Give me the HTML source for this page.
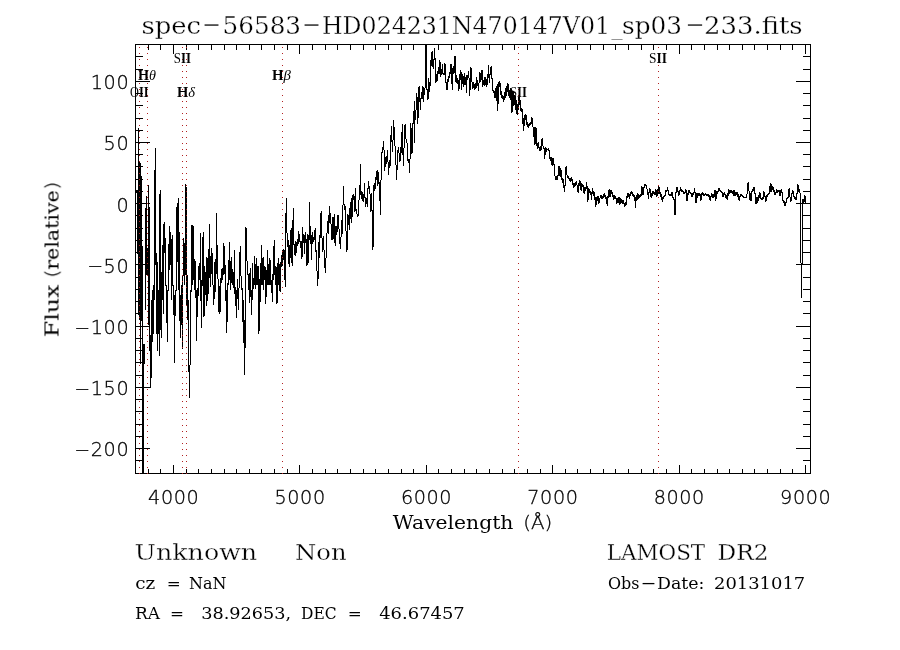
<!DOCTYPE html>
<html><head><meta charset="utf-8"><title>spec-56583-HD024231N470147V01_sp03-233.fits</title>
<style>html,body{margin:0;padding:0;background:#fff}svg{display:block}</style></head>
<body><svg width="900" height="650" viewBox="0 0 900 650">
<rect width="900" height="650" fill="#fff"/>
<path d="M135.5 44 V474 M810.5 44 V474 M135 44.5 H811 M135 473.5 H811 M148.5 44 V50 M148.5 474 V469 M160.5 44 V50 M160.5 474 V469 M173.5 44 V54 M173.5 474 V465 M186.5 44 V50 M186.5 474 V469 M198.5 44 V50 M198.5 474 V469 M211.5 44 V50 M211.5 474 V469 M224.5 44 V50 M224.5 474 V469 M236.5 44 V50 M236.5 474 V469 M249.5 44 V50 M249.5 474 V469 M261.5 44 V50 M261.5 474 V469 M274.5 44 V50 M274.5 474 V469 M287.5 44 V50 M287.5 474 V469 M299.5 44 V54 M299.5 474 V465 M312.5 44 V50 M312.5 474 V469 M325.5 44 V50 M325.5 474 V469 M337.5 44 V50 M337.5 474 V469 M350.5 44 V50 M350.5 474 V469 M363.5 44 V50 M363.5 474 V469 M375.5 44 V50 M375.5 474 V469 M388.5 44 V50 M388.5 474 V469 M401.5 44 V50 M401.5 474 V469 M413.5 44 V50 M413.5 474 V469 M426.5 44 V54 M426.5 474 V465 M438.5 44 V50 M438.5 474 V469 M451.5 44 V50 M451.5 474 V469 M464.5 44 V50 M464.5 474 V469 M476.5 44 V50 M476.5 474 V469 M489.5 44 V50 M489.5 474 V469 M502.5 44 V50 M502.5 474 V469 M514.5 44 V50 M514.5 474 V469 M527.5 44 V50 M527.5 474 V469 M540.5 44 V50 M540.5 474 V469 M552.5 44 V54 M552.5 474 V465 M565.5 44 V50 M565.5 474 V469 M577.5 44 V50 M577.5 474 V469 M590.5 44 V50 M590.5 474 V469 M603.5 44 V50 M603.5 474 V469 M615.5 44 V50 M615.5 474 V469 M628.5 44 V50 M628.5 474 V469 M641.5 44 V50 M641.5 474 V469 M653.5 44 V50 M653.5 474 V469 M666.5 44 V50 M666.5 474 V469 M679.5 44 V54 M679.5 474 V465 M691.5 44 V50 M691.5 474 V469 M704.5 44 V50 M704.5 474 V469 M717.5 44 V50 M717.5 474 V469 M729.5 44 V50 M729.5 474 V469 M742.5 44 V50 M742.5 474 V469 M754.5 44 V50 M754.5 474 V469 M767.5 44 V50 M767.5 474 V469 M780.5 44 V50 M780.5 474 V469 M792.5 44 V50 M792.5 474 V469 M805.5 44 V54 M805.5 474 V465 M135 460.5 H143 M811 460.5 H803 M135 448.5 H150 M811 448.5 H796 M135 436.5 H143 M811 436.5 H803 M135 424.5 H143 M811 424.5 H803 M135 411.5 H143 M811 411.5 H803 M135 399.5 H143 M811 399.5 H803 M135 387.5 H150 M811 387.5 H796 M135 375.5 H143 M811 375.5 H803 M135 362.5 H143 M811 362.5 H803 M135 350.5 H143 M811 350.5 H803 M135 338.5 H143 M811 338.5 H803 M135 326.5 H150 M811 326.5 H796 M135 313.5 H143 M811 313.5 H803 M135 301.5 H143 M811 301.5 H803 M135 289.5 H143 M811 289.5 H803 M135 277.5 H143 M811 277.5 H803 M135 264.5 H150 M811 264.5 H796 M135 252.5 H143 M811 252.5 H803 M135 240.5 H143 M811 240.5 H803 M135 228.5 H143 M811 228.5 H803 M135 215.5 H143 M811 215.5 H803 M135 203.5 H150 M811 203.5 H796 M135 191.5 H143 M811 191.5 H803 M135 179.5 H143 M811 179.5 H803 M135 166.5 H143 M811 166.5 H803 M135 154.5 H143 M811 154.5 H803 M135 142.5 H150 M811 142.5 H796 M135 130.5 H143 M811 130.5 H803 M135 118.5 H143 M811 118.5 H803 M135 105.5 H143 M811 105.5 H803 M135 93.5 H143 M811 93.5 H803 M135 81.5 H150 M811 81.5 H796 M135 69.5 H143 M811 69.5 H803 M135 56.5 H143 M811 56.5 H803" stroke="#000" stroke-width="1" fill="none" shape-rendering="crispEdges"/>
<path d="M136.5 190V193M137.5 190V254M138.5 128V315M139.5 162V320M140.5 163V364M141.5 176V321M142.5 246V474M143.5 344V474M144.5 344V364M145.5 208V310M146.5 196V275M147.5 248V275M148.5 185V325M149.5 207V351M150.5 335V388M151.5 300V378M152.5 290V342M153.5 285V334M154.5 170V300M155.5 148V265M156.5 253V334M157.5 262V351M158.5 290V334M159.5 194V356M160.5 190V330M161.5 272V338M162.5 245V300M163.5 224V314M164.5 222V253M165.5 238V286M166.5 285V323M167.5 290V342M168.5 244V291M169.5 226V270M170.5 232V265M171.5 239V300M172.5 235V286M173.5 285V315M174.5 295V363M175.5 290V316M176.5 207V291M177.5 203V262M178.5 198V290M179.5 232V321M180.5 295V338M181.5 285V325M182.5 275V349M183.5 238V276M184.5 243V285M185.5 184V275M186.5 187V305M187.5 275V320M188.5 300V372M189.5 365V398M190.5 290V365M191.5 225V292M192.5 225V285M193.5 226V280M194.5 259V290M195.5 261V298M196.5 290V341M197.5 288V317M198.5 266V296M199.5 263V280M200.5 233V301M201.5 280V328M202.5 237V286M203.5 232V317M204.5 266V316M205.5 272V295M206.5 257V306M207.5 258V301M208.5 249V294M209.5 224V278M210.5 256V287M211.5 248V274M212.5 253V285M213.5 285V305M214.5 262V299M215.5 259V292M216.5 213V274M217.5 245V279M218.5 279V312M219.5 286V314M220.5 278V312M221.5 269V283M222.5 268V280M223.5 243V275M224.5 246V274M225.5 265V301M226.5 290V333M227.5 283V322M228.5 260V285M229.5 242V280M230.5 261V290M231.5 257V283M232.5 269V285M233.5 272V288M234.5 250V294M235.5 287V306M236.5 290V318M237.5 279V299M238.5 288V310M239.5 252V288M240.5 246V276M241.5 276V290M242.5 288V322M243.5 300V343M244.5 320V375M245.5 227V348M246.5 228V261M247.5 261V275M248.5 274V290M249.5 273V303M250.5 268V297M251.5 290V315M252.5 263V300M253.5 278V289M254.5 256V285M255.5 264V289M256.5 258V285M257.5 266V285M258.5 266V334M259.5 279V331M260.5 263V302M261.5 245V285M262.5 258V285M263.5 257V290M264.5 266V280M265.5 267V304M266.5 270V297M267.5 250V285M268.5 264V285M269.5 258V285M270.5 260V285M271.5 280V293M272.5 274V302M273.5 246V280M274.5 240V275M275.5 266V285M276.5 267V304M277.5 263V303M278.5 258V285M279.5 264V291M280.5 262V292M281.5 255V267M282.5 250V266M283.5 249V260M284.5 250V280M285.5 213V287M286.5 198V233M287.5 233V247M288.5 240V264M289.5 245V267M290.5 230V258M291.5 228V263M292.5 220V266M293.5 208V245M294.5 244V255M295.5 241V256M296.5 242V253M297.5 239V246M298.5 231V244M299.5 234V242M300.5 241V248M301.5 241V259M302.5 227V257M303.5 234V243M304.5 235V254M305.5 232V243M306.5 239V266M307.5 234V265M308.5 235V263M309.5 202V240M310.5 226V244M311.5 235V260M312.5 232V244M313.5 237V242M314.5 230V240M315.5 228V252M316.5 250V271M317.5 271V286M318.5 242V279M319.5 235V258M320.5 213V238M321.5 211V238M322.5 238V252M323.5 236V250M324.5 250V268M325.5 258V273M326.5 233V258M327.5 221V233M328.5 215V234M329.5 206V223M330.5 213V224M331.5 224V240M332.5 217V240M333.5 217V239M334.5 214V243M335.5 226V246M336.5 226V235M337.5 215V232M338.5 215V229M339.5 229V244M340.5 237V249M341.5 220V237M342.5 205V234M343.5 186V205M344.5 204V210M345.5 206V231M346.5 231V252M347.5 214V250M348.5 215V225M349.5 208V230M350.5 202V219M351.5 198V223M352.5 195V217M353.5 194V200M354.5 196V212M355.5 188V211M356.5 209V214M357.5 214V217M358.5 200V216M359.5 185V200M360.5 164V195M361.5 191V199M362.5 192V201M363.5 194V202M364.5 183V198M365.5 197V207M366.5 198V204M367.5 188V207M368.5 181V189M369.5 186V194M370.5 194V212M371.5 193V211M372.5 210V250M373.5 185V247M374.5 183V191M375.5 177V189M376.5 171V180M377.5 170V186M378.5 172V184M379.5 182V201M380.5 180V215M381.5 152V180M382.5 147V153M383.5 141V150M384.5 150V171M385.5 157V167M386.5 156V164M387.5 150V162M388.5 162V175M389.5 160V168M390.5 135V166M391.5 126V142M392.5 140V152M393.5 120V140M394.5 127V146M395.5 146V165M396.5 165V180M397.5 150V170M398.5 147V153M399.5 153V162M400.5 147V161M401.5 132V153M402.5 124V155M403.5 148V166M404.5 125V148M405.5 124V139M406.5 139V143M407.5 143V161M408.5 159V163M409.5 159V173M410.5 123V159M411.5 128V154M412.5 123V153M413.5 111V124M414.5 101V143M415.5 110V120M416.5 93V110M417.5 97V124M418.5 87V118M419.5 86V102M420.5 98V110M421.5 92V99M422.5 86V99M423.5 87V102M424.5 88V95M425.5 44V88M426.5 44V90M427.5 89V100M428.5 78V99M429.5 82V92M430.5 60V86M431.5 52V66M432.5 51V67M433.5 59V69M434.5 48V60M435.5 58V83M436.5 74V82M437.5 71V81M438.5 67V74M439.5 60V74M440.5 62V77M441.5 69V75M442.5 64V74M443.5 73V75M444.5 63V75M445.5 64V83M446.5 82V90M447.5 79V90M448.5 76V82M449.5 72V78M450.5 64V74M451.5 64V84M452.5 68V90M453.5 66V74M454.5 56V73M455.5 56V82M456.5 75V83M457.5 78V84M458.5 80V91M459.5 74V89M460.5 70V80M461.5 72V90M462.5 74V84M463.5 76V87M464.5 73V85M465.5 77V85M466.5 75V93M467.5 75V80M468.5 71V78M469.5 78V96M470.5 67V90M471.5 68V82M472.5 82V89M473.5 82V88M474.5 84V90M475.5 83V89M476.5 77V88M477.5 80V86M478.5 83V91M479.5 72V83M480.5 73V82M481.5 70V80M482.5 70V87M483.5 80V85M484.5 77V86M485.5 77V85M486.5 79V87M487.5 74V85M488.5 65V78M489.5 74V83M490.5 67V75M491.5 66V79M492.5 78V91M493.5 90V93M494.5 91V98M495.5 88V98M496.5 86V101M497.5 84V111M498.5 82V104M499.5 81V87M500.5 83V95M501.5 91V98M502.5 95V99M503.5 96V102M504.5 92V100M505.5 88V98M506.5 86V96M507.5 83V92M508.5 84V96M509.5 90V98M510.5 88V100M511.5 89V113M512.5 91V112M513.5 92V106M514.5 95V105M515.5 96V110M516.5 100V114M517.5 104V115M518.5 97V110M519.5 97V105M520.5 100V111M521.5 108V112M522.5 109V124M523.5 118V131M524.5 115V126M525.5 114V120M526.5 115V125M527.5 122V127M528.5 124V128M529.5 123V126M530.5 122V125M531.5 117V124M532.5 118V127M533.5 127V137M534.5 127V145M535.5 127V144M536.5 128V146M537.5 143V149M538.5 142V148M539.5 147V151M540.5 146V151M541.5 139V150M542.5 138V146M543.5 146V149M544.5 148V159M545.5 147V155M546.5 148V152M547.5 149V150M548.5 148V151M549.5 150V159M550.5 157V161M551.5 157V165M552.5 158V166M553.5 158V165M554.5 164V176M555.5 176V180M556.5 176V180M557.5 175V180M558.5 166V176M559.5 166V176M560.5 168V177M561.5 170V180M562.5 178V183M563.5 179V188M564.5 185V192M565.5 167V186M566.5 166V175M567.5 175V178M568.5 176V179M569.5 178V181M570.5 178V182M571.5 177V181M572.5 179V185M573.5 183V188M574.5 183V187M575.5 182V186M576.5 181V185M577.5 185V192M578.5 183V193M579.5 180V186M580.5 181V190M581.5 183V191M582.5 184V187M583.5 185V193M584.5 187V194M585.5 187V191M586.5 182V189M587.5 186V202M588.5 188V200M589.5 189V193M590.5 191V195M591.5 192V200M592.5 188V194M593.5 191V196M594.5 192V200M595.5 197V207M596.5 197V205M597.5 196V201M598.5 196V204M599.5 198V203M600.5 195V198M601.5 195V199M602.5 196V199M603.5 194V198M604.5 193V197M605.5 195V199M606.5 197V204M607.5 196V206M608.5 190V198M609.5 189V197M610.5 190V197M611.5 190V194M612.5 192V197M613.5 195V200M614.5 195V199M615.5 196V199M616.5 198V204M617.5 198V203M618.5 197V203M619.5 197V205M620.5 198V204M621.5 199V203M622.5 200V204M623.5 200V204M624.5 203V207M625.5 202V206M626.5 196V205M627.5 193V198M628.5 193V197M629.5 194V199M630.5 192V196M631.5 191V194M632.5 192V196M633.5 194V197M634.5 195V201M635.5 197V208M636.5 195V201M637.5 193V200M638.5 194V199M639.5 195V198M640.5 194V197M641.5 186V196M642.5 187V195M643.5 187V195M644.5 184V188M645.5 184V186M646.5 185V189M647.5 189V195M648.5 192V199M649.5 188V193M650.5 189V197M651.5 193V198M652.5 191V196M653.5 191V194M654.5 192V195M655.5 189V195M656.5 190V197M657.5 189V196M658.5 186V194M659.5 187V194M660.5 192V197M661.5 194V200M662.5 197V202M663.5 196V199M664.5 195V197M665.5 190V196M666.5 190V192M667.5 187V191M668.5 190V195M669.5 194V196M670.5 194V196M671.5 192V196M672.5 192V198M673.5 197V200M674.5 199V215M675.5 192V215M676.5 187V193M677.5 187V192M678.5 191V196M679.5 190V195M680.5 187V191M681.5 189V192M682.5 190V192M683.5 191V194M684.5 192V194M685.5 189V193M686.5 190V201M687.5 193V201M688.5 190V195M689.5 190V193M690.5 192V194M691.5 193V197M692.5 193V197M693.5 192V195M694.5 188V193M695.5 192V203M696.5 193V203M697.5 193V198M698.5 193V196M699.5 193V196M700.5 194V201M701.5 193V200M702.5 192V195M703.5 193V196M704.5 194V196M705.5 193V195M706.5 194V196M707.5 194V196M708.5 194V197M709.5 195V200M710.5 196V201M711.5 193V197M712.5 194V198M713.5 194V198M714.5 190V197M715.5 190V201M716.5 191V199M717.5 191V194M718.5 188V192M719.5 188V191M720.5 190V192M721.5 191V193M722.5 192V197M723.5 193V197M724.5 192V195M725.5 194V198M726.5 195V199M727.5 193V200M728.5 189V196M729.5 190V194M730.5 190V193M731.5 190V193M732.5 191V194M733.5 190V196M734.5 190V196M735.5 192V196M736.5 192V195M737.5 192V197M738.5 194V200M739.5 196V201M740.5 194V197M741.5 194V196M742.5 195V197M743.5 196V198M744.5 197V198M745.5 197V198M746.5 194V198M747.5 183V194M748.5 182V191M749.5 191V200M750.5 193V201M751.5 191V201M752.5 189V192M753.5 187V191M754.5 187V194M755.5 193V204M756.5 197V204M757.5 197V203M758.5 195V201M759.5 192V198M760.5 193V199M761.5 198V200M762.5 197V200M763.5 191V199M764.5 192V197M765.5 196V202M766.5 195V201M767.5 194V197M768.5 193V195M769.5 186V194M770.5 183V192M771.5 184V192M772.5 186V190M773.5 187V192M774.5 190V195M775.5 192V195M776.5 189V193M777.5 190V193M778.5 190V192M779.5 190V196M780.5 190V196M781.5 189V193M782.5 192V201M783.5 200V203M784.5 201V206M785.5 202V206M786.5 198V203M787.5 197V199M788.5 189V198M789.5 188V197M790.5 197V202M791.5 193V201M792.5 190V194M793.5 191V197M794.5 196V199M795.5 197V200M796.5 193V200M797.5 184V194M798.5 185V192M799.5 189V193M800.5 193V263M801.5 263V298M802.5 199V264M803.5 199V203M804.5 195V202M805.5 196V203" stroke="#000" stroke-width="1" fill="none" shape-rendering="crispEdges"/>
<path d="M139 47.5h1M139 53.5h1M139 59.5h1M139 65.5h1M139 71.5h1M139 77.5h1M139 83.5h1M139 89.5h1M139 95.5h1M139 101.5h1M139 107.5h1M139 113.5h1M139 119.5h1M139 125.5h1M139 131.5h1M139 137.5h1M139 143.5h1M139 149.5h1M139 155.5h1M139 161.5h1M139 167.5h1M139 173.5h1M139 179.5h1M139 185.5h1M139 191.5h1M139 197.5h1M139 203.5h1M139 209.5h1M139 215.5h1M139 221.5h1M139 227.5h1M139 233.5h1M139 239.5h1M139 245.5h1M139 251.5h1M139 257.5h1M139 263.5h1M139 269.5h1M139 275.5h1M139 281.5h1M139 287.5h1M139 293.5h1M139 299.5h1M139 305.5h1M139 311.5h1M139 317.5h1M139 323.5h1M139 329.5h1M139 335.5h1M139 341.5h1M139 347.5h1M139 353.5h1M139 359.5h1M139 365.5h1M139 371.5h1M139 377.5h1M139 383.5h1M139 389.5h1M139 395.5h1M139 401.5h1M139 407.5h1M139 413.5h1M139 419.5h1M139 425.5h1M139 431.5h1M139 437.5h1M139 443.5h1M139 449.5h1M139 455.5h1M139 461.5h1M139 467.5h1M139 473.5h1M147 47.5h1M147 53.5h1M147 59.5h1M147 65.5h1M147 71.5h1M147 77.5h1M147 83.5h1M147 89.5h1M147 95.5h1M147 101.5h1M147 107.5h1M147 113.5h1M147 119.5h1M147 125.5h1M147 131.5h1M147 137.5h1M147 143.5h1M147 149.5h1M147 155.5h1M147 161.5h1M147 167.5h1M147 173.5h1M147 179.5h1M147 185.5h1M147 191.5h1M147 197.5h1M147 203.5h1M147 209.5h1M147 215.5h1M147 221.5h1M147 227.5h1M147 233.5h1M147 239.5h1M147 245.5h1M147 251.5h1M147 257.5h1M147 263.5h1M147 269.5h1M147 275.5h1M147 281.5h1M147 287.5h1M147 293.5h1M147 299.5h1M147 305.5h1M147 311.5h1M147 317.5h1M147 323.5h1M147 329.5h1M147 335.5h1M147 341.5h1M147 347.5h1M147 353.5h1M147 359.5h1M147 365.5h1M147 371.5h1M147 377.5h1M147 383.5h1M147 389.5h1M147 395.5h1M147 401.5h1M147 407.5h1M147 413.5h1M147 419.5h1M147 425.5h1M147 431.5h1M147 437.5h1M147 443.5h1M147 449.5h1M147 455.5h1M147 461.5h1M147 467.5h1M147 473.5h1M182 47.5h1M182 53.5h1M182 59.5h1M182 65.5h1M182 71.5h1M182 77.5h1M182 83.5h1M182 89.5h1M182 95.5h1M182 101.5h1M182 107.5h1M182 113.5h1M182 119.5h1M182 125.5h1M182 131.5h1M182 137.5h1M182 143.5h1M182 149.5h1M182 155.5h1M182 161.5h1M182 167.5h1M182 173.5h1M182 179.5h1M182 185.5h1M182 191.5h1M182 197.5h1M182 203.5h1M182 209.5h1M182 215.5h1M182 221.5h1M182 227.5h1M182 233.5h1M182 239.5h1M182 245.5h1M182 251.5h1M182 257.5h1M182 263.5h1M182 269.5h1M182 275.5h1M182 281.5h1M182 287.5h1M182 293.5h1M182 299.5h1M182 305.5h1M182 311.5h1M182 317.5h1M182 323.5h1M182 329.5h1M182 335.5h1M182 341.5h1M182 347.5h1M182 353.5h1M182 359.5h1M182 365.5h1M182 371.5h1M182 377.5h1M182 383.5h1M182 389.5h1M182 395.5h1M182 401.5h1M182 407.5h1M182 413.5h1M182 419.5h1M182 425.5h1M182 431.5h1M182 437.5h1M182 443.5h1M182 449.5h1M182 455.5h1M182 461.5h1M182 467.5h1M182 473.5h1M186 47.5h1M186 53.5h1M186 59.5h1M186 65.5h1M186 71.5h1M186 77.5h1M186 83.5h1M186 89.5h1M186 95.5h1M186 101.5h1M186 107.5h1M186 113.5h1M186 119.5h1M186 125.5h1M186 131.5h1M186 137.5h1M186 143.5h1M186 149.5h1M186 155.5h1M186 161.5h1M186 167.5h1M186 173.5h1M186 179.5h1M186 185.5h1M186 191.5h1M186 197.5h1M186 203.5h1M186 209.5h1M186 215.5h1M186 221.5h1M186 227.5h1M186 233.5h1M186 239.5h1M186 245.5h1M186 251.5h1M186 257.5h1M186 263.5h1M186 269.5h1M186 275.5h1M186 281.5h1M186 287.5h1M186 293.5h1M186 299.5h1M186 305.5h1M186 311.5h1M186 317.5h1M186 323.5h1M186 329.5h1M186 335.5h1M186 341.5h1M186 347.5h1M186 353.5h1M186 359.5h1M186 365.5h1M186 371.5h1M186 377.5h1M186 383.5h1M186 389.5h1M186 395.5h1M186 401.5h1M186 407.5h1M186 413.5h1M186 419.5h1M186 425.5h1M186 431.5h1M186 437.5h1M186 443.5h1M186 449.5h1M186 455.5h1M186 461.5h1M186 467.5h1M186 473.5h1M282 47.5h1M282 53.5h1M282 59.5h1M282 65.5h1M282 71.5h1M282 77.5h1M282 83.5h1M282 89.5h1M282 95.5h1M282 101.5h1M282 107.5h1M282 113.5h1M282 119.5h1M282 125.5h1M282 131.5h1M282 137.5h1M282 143.5h1M282 149.5h1M282 155.5h1M282 161.5h1M282 167.5h1M282 173.5h1M282 179.5h1M282 185.5h1M282 191.5h1M282 197.5h1M282 203.5h1M282 209.5h1M282 215.5h1M282 221.5h1M282 227.5h1M282 233.5h1M282 239.5h1M282 245.5h1M282 251.5h1M282 257.5h1M282 263.5h1M282 269.5h1M282 275.5h1M282 281.5h1M282 287.5h1M282 293.5h1M282 299.5h1M282 305.5h1M282 311.5h1M282 317.5h1M282 323.5h1M282 329.5h1M282 335.5h1M282 341.5h1M282 347.5h1M282 353.5h1M282 359.5h1M282 365.5h1M282 371.5h1M282 377.5h1M282 383.5h1M282 389.5h1M282 395.5h1M282 401.5h1M282 407.5h1M282 413.5h1M282 419.5h1M282 425.5h1M282 431.5h1M282 437.5h1M282 443.5h1M282 449.5h1M282 455.5h1M282 461.5h1M282 467.5h1M282 473.5h1M518 47.5h1M518 53.5h1M518 59.5h1M518 65.5h1M518 71.5h1M518 77.5h1M518 83.5h1M518 89.5h1M518 95.5h1M518 101.5h1M518 107.5h1M518 113.5h1M518 119.5h1M518 125.5h1M518 131.5h1M518 137.5h1M518 143.5h1M518 149.5h1M518 155.5h1M518 161.5h1M518 167.5h1M518 173.5h1M518 179.5h1M518 185.5h1M518 191.5h1M518 197.5h1M518 203.5h1M518 209.5h1M518 215.5h1M518 221.5h1M518 227.5h1M518 233.5h1M518 239.5h1M518 245.5h1M518 251.5h1M518 257.5h1M518 263.5h1M518 269.5h1M518 275.5h1M518 281.5h1M518 287.5h1M518 293.5h1M518 299.5h1M518 305.5h1M518 311.5h1M518 317.5h1M518 323.5h1M518 329.5h1M518 335.5h1M518 341.5h1M518 347.5h1M518 353.5h1M518 359.5h1M518 365.5h1M518 371.5h1M518 377.5h1M518 383.5h1M518 389.5h1M518 395.5h1M518 401.5h1M518 407.5h1M518 413.5h1M518 419.5h1M518 425.5h1M518 431.5h1M518 437.5h1M518 443.5h1M518 449.5h1M518 455.5h1M518 461.5h1M518 467.5h1M518 473.5h1M658 47.5h1M658 53.5h1M658 59.5h1M658 65.5h1M658 71.5h1M658 77.5h1M658 83.5h1M658 89.5h1M658 95.5h1M658 101.5h1M658 107.5h1M658 113.5h1M658 119.5h1M658 125.5h1M658 131.5h1M658 137.5h1M658 143.5h1M658 149.5h1M658 155.5h1M658 161.5h1M658 167.5h1M658 173.5h1M658 179.5h1M658 185.5h1M658 191.5h1M658 197.5h1M658 203.5h1M658 209.5h1M658 215.5h1M658 221.5h1M658 227.5h1M658 233.5h1M658 239.5h1M658 245.5h1M658 251.5h1M658 257.5h1M658 263.5h1M658 269.5h1M658 275.5h1M658 281.5h1M658 287.5h1M658 293.5h1M658 299.5h1M658 305.5h1M658 311.5h1M658 317.5h1M658 323.5h1M658 329.5h1M658 335.5h1M658 341.5h1M658 347.5h1M658 353.5h1M658 359.5h1M658 365.5h1M658 371.5h1M658 377.5h1M658 383.5h1M658 389.5h1M658 395.5h1M658 401.5h1M658 407.5h1M658 413.5h1M658 419.5h1M658 425.5h1M658 431.5h1M658 437.5h1M658 443.5h1M658 449.5h1M658 455.5h1M658 461.5h1M658 467.5h1M658 473.5h1" stroke="#b22222" stroke-width="1" fill="none" shape-rendering="crispEdges"/>
<g fill="#000" style="will-change:opacity" opacity="0.999"><text y="33.5" font-family='"DejaVu Serif", "Liberation Serif", serif' font-size="24" font-weight="normal" stroke="#fff" stroke-width="0.3" xml:space="preserve"><tspan x="141.4" y="33.5" textLength="59.6" lengthAdjust="spacingAndGlyphs">spec</tspan><tspan x="201.5" y="32.0" textLength="20" lengthAdjust="spacingAndGlyphs">-</tspan><tspan x="222.6" y="33.5" textLength="78.4" lengthAdjust="spacingAndGlyphs">56583</tspan><tspan x="301.5" y="32.0" textLength="20" lengthAdjust="spacingAndGlyphs">-</tspan><tspan x="322" y="33.5" textLength="288" lengthAdjust="spacingAndGlyphs">HD024231N470147V01</tspan><tspan x="611.5" y="33.5" textLength="11" lengthAdjust="spacingAndGlyphs">_</tspan><tspan x="622" y="33.5" textLength="60" lengthAdjust="spacingAndGlyphs">sp03</tspan><tspan x="685" y="32.0" textLength="20" lengthAdjust="spacingAndGlyphs">-</tspan><tspan x="704" y="33.5" textLength="98.6" lengthAdjust="spacingAndGlyphs">233.fits</tspan></text><text y="89.1" font-family='"DejaVu Sans Light", "DejaVu Sans", "Liberation Sans", sans-serif' font-size="19.2" font-weight="200" letter-spacing="0.6" stroke="#000" stroke-width="0.3" xml:space="preserve"><tspan x="90.8" y="89.1">100</tspan></text><text y="150.3" font-family='"DejaVu Sans Light", "DejaVu Sans", "Liberation Sans", sans-serif' font-size="19.2" font-weight="200" letter-spacing="0.6" stroke="#000" stroke-width="0.3" xml:space="preserve"><tspan x="103.6" y="150.3">50</tspan></text><text y="211.5" font-family='"DejaVu Sans Light", "DejaVu Sans", "Liberation Sans", sans-serif' font-size="19.2" font-weight="200" letter-spacing="0.6" stroke="#000" stroke-width="0.3" xml:space="preserve"><tspan x="116.4" y="211.5">0</tspan></text><text y="272.7" font-family='"DejaVu Sans Light", "DejaVu Sans", "Liberation Sans", sans-serif' font-size="19.2" font-weight="200" letter-spacing="0.6" stroke="#000" stroke-width="0.3" xml:space="preserve"><tspan x="87.4" dy="-0.4" textLength="17" lengthAdjust="spacingAndGlyphs">-</tspan><tspan x="103.6" y="272.7">50</tspan></text><text y="334.0" font-family='"DejaVu Sans Light", "DejaVu Sans", "Liberation Sans", sans-serif' font-size="19.2" font-weight="200" letter-spacing="0.6" stroke="#000" stroke-width="0.3" xml:space="preserve"><tspan x="74.6" dy="-0.4" textLength="17" lengthAdjust="spacingAndGlyphs">-</tspan><tspan x="90.8" y="334.0">100</tspan></text><text y="395.2" font-family='"DejaVu Sans Light", "DejaVu Sans", "Liberation Sans", sans-serif' font-size="19.2" font-weight="200" letter-spacing="0.6" stroke="#000" stroke-width="0.3" xml:space="preserve"><tspan x="74.6" dy="-0.4" textLength="17" lengthAdjust="spacingAndGlyphs">-</tspan><tspan x="90.8" y="395.2">150</tspan></text><text y="456.4" font-family='"DejaVu Sans Light", "DejaVu Sans", "Liberation Sans", sans-serif' font-size="19.2" font-weight="200" letter-spacing="0.6" stroke="#000" stroke-width="0.3" xml:space="preserve"><tspan x="74.6" dy="-0.4" textLength="17" lengthAdjust="spacingAndGlyphs">-</tspan><tspan x="90.8" y="456.4">200</tspan></text><text y="504" font-family='"DejaVu Sans Light", "DejaVu Sans", "Liberation Sans", sans-serif' font-size="19.2" font-weight="200" letter-spacing="0.6" stroke="#000" stroke-width="0.3" xml:space="preserve"><tspan x="148.1" y="504">4000</tspan></text><text y="504" font-family='"DejaVu Sans Light", "DejaVu Sans", "Liberation Sans", sans-serif' font-size="19.2" font-weight="200" letter-spacing="0.6" stroke="#000" stroke-width="0.3" xml:space="preserve"><tspan x="274.5" y="504">5000</tspan></text><text y="504" font-family='"DejaVu Sans Light", "DejaVu Sans", "Liberation Sans", sans-serif' font-size="19.2" font-weight="200" letter-spacing="0.6" stroke="#000" stroke-width="0.3" xml:space="preserve"><tspan x="400.9" y="504">6000</tspan></text><text y="504" font-family='"DejaVu Sans Light", "DejaVu Sans", "Liberation Sans", sans-serif' font-size="19.2" font-weight="200" letter-spacing="0.6" stroke="#000" stroke-width="0.3" xml:space="preserve"><tspan x="527.3" y="504">7000</tspan></text><text y="504" font-family='"DejaVu Sans Light", "DejaVu Sans", "Liberation Sans", sans-serif' font-size="19.2" font-weight="200" letter-spacing="0.6" stroke="#000" stroke-width="0.3" xml:space="preserve"><tspan x="653.7" y="504">8000</tspan></text><text y="504" font-family='"DejaVu Sans Light", "DejaVu Sans", "Liberation Sans", sans-serif' font-size="19.2" font-weight="200" letter-spacing="0.6" stroke="#000" stroke-width="0.3" xml:space="preserve"><tspan x="780.1" y="504">9000</tspan></text><text y="529.2" font-family='"DejaVu Serif", "Liberation Serif", serif' font-size="17.6" font-weight="normal" xml:space="preserve"><tspan x="392.8" y="529.2" textLength="120.6" lengthAdjust="spacingAndGlyphs">Wavelength</tspan><tspan x="515" y="529.2"> </tspan><tspan x="523.2" y="529.2" textLength="29" lengthAdjust="spacingAndGlyphs" font-family='"DejaVu Sans Light", "DejaVu Sans", "Liberation Sans", sans-serif' font-weight="200" font-size="18.5" stroke="#000" stroke-width="0.3">(Å)</tspan></text><g transform="translate(58.5 336.2) rotate(-90)"><text y="0" font-family='"DejaVu Serif", "Liberation Serif", serif' font-size="17.6" font-weight="normal" xml:space="preserve"><tspan x="-1" y="0" textLength="52.5" lengthAdjust="spacingAndGlyphs">Flux</tspan><tspan x="52" y="0"> </tspan><tspan x="58.6" y="0" textLength="8" lengthAdjust="spacingAndGlyphs" font-family='"DejaVu Sans Light", "DejaVu Sans", "Liberation Sans", sans-serif' font-weight="200" font-size="18.5" stroke="#000" stroke-width="0.3">(</tspan><tspan x="66.5" y="0" textLength="79.5" lengthAdjust="spacingAndGlyphs">relative</tspan><tspan x="146.5" y="0" textLength="8" lengthAdjust="spacingAndGlyphs" font-family='"DejaVu Sans Light", "DejaVu Sans", "Liberation Sans", sans-serif' font-weight="200" font-size="18.5" stroke="#000" stroke-width="0.3">)</tspan></text></g><text y="559.8" font-family='"DejaVu Serif", "Liberation Serif", serif' font-size="22.4" font-weight="normal" stroke="#fff" stroke-width="0.3" xml:space="preserve"><tspan x="134.6" y="559.8" textLength="122.6" lengthAdjust="spacingAndGlyphs">Unknown</tspan><tspan x="258" y="559.8">    </tspan><tspan x="295" y="559.8" textLength="51.6" lengthAdjust="spacingAndGlyphs">Non</tspan></text><text y="559.8" font-family='"DejaVu Serif", "Liberation Serif", serif' font-size="22.4" font-weight="normal" stroke="#fff" stroke-width="0.3" xml:space="preserve"><tspan x="606.8" y="559.8" textLength="98.4" lengthAdjust="spacingAndGlyphs">LAMOST</tspan><tspan x="706" y="559.8"> </tspan><tspan x="717.6" y="559.8" textLength="51" lengthAdjust="spacingAndGlyphs">DR2</tspan></text><text y="589.3" font-family='"DejaVu Serif", "Liberation Serif", serif' font-size="16.7" font-weight="normal" xml:space="preserve"><tspan x="135.2" y="589.3" textLength="20" lengthAdjust="spacingAndGlyphs">cz</tspan><tspan x="156" y="589.3"> </tspan><tspan x="166.7" y="589.3">=</tspan><tspan x="180" y="589.3"> </tspan><tspan x="189" y="589.3" textLength="37.4" lengthAdjust="spacingAndGlyphs">NaN</tspan></text><text y="589.3" font-family='"DejaVu Serif", "Liberation Serif", serif' font-size="16.7" font-weight="normal" xml:space="preserve"><tspan x="608" y="589.3" textLength="31.5" lengthAdjust="spacingAndGlyphs">Obs</tspan><tspan x="640.5" y="587.8" textLength="16" lengthAdjust="spacingAndGlyphs">-</tspan><tspan x="657" y="589.3" textLength="47.5" lengthAdjust="spacingAndGlyphs">Date:</tspan><tspan x="706" y="589.3"> </tspan><tspan x="714" y="589.3" textLength="91.2" lengthAdjust="spacingAndGlyphs">20131017</tspan></text><text y="619.3" font-family='"DejaVu Serif", "Liberation Serif", serif' font-size="16.7" font-weight="normal" xml:space="preserve"><tspan x="135" y="619.3" textLength="25" lengthAdjust="spacingAndGlyphs">RA</tspan><tspan x="161" y="619.3"> </tspan><tspan x="170" y="619.3">=</tspan><tspan x="183" y="619.3">   </tspan><tspan x="201.2" y="619.3" textLength="90" lengthAdjust="spacingAndGlyphs">38.92653,</tspan><tspan x="292" y="619.3"> </tspan><tspan x="301" y="619.3" textLength="35.6" lengthAdjust="spacingAndGlyphs">DEC</tspan><tspan x="338" y="619.3"> </tspan><tspan x="347.8" y="619.3">=</tspan><tspan x="361" y="619.3">   </tspan><tspan x="379.2" y="619.3" textLength="85.6" lengthAdjust="spacingAndGlyphs">46.67457</tspan></text><text x="173.8" y="63" font-family='"Liberation Serif", serif' font-size="15" textLength="17.2" lengthAdjust="spacingAndGlyphs"><tspan font-weight="normal">S</tspan><tspan font-weight="bold">II</tspan></text><text x="138" y="79.5" font-family='"Liberation Serif", serif' font-size="15" textLength="18" lengthAdjust="spacingAndGlyphs"><tspan font-weight="bold">H</tspan><tspan font-weight="normal" font-style="italic">θ</tspan></text><text x="130" y="96.8" font-family='"Liberation Serif", serif' font-size="15" textLength="18.5" lengthAdjust="spacingAndGlyphs"><tspan font-weight="normal">O</tspan><tspan font-weight="bold">II</tspan></text><text x="177" y="97" font-family='"Liberation Serif", serif' font-size="15" textLength="18" lengthAdjust="spacingAndGlyphs"><tspan font-weight="bold">H</tspan><tspan font-weight="normal" font-style="italic">δ</tspan></text><text x="272.1" y="80.1" font-family='"Liberation Serif", serif' font-size="15" textLength="18.9" lengthAdjust="spacingAndGlyphs"><tspan font-weight="bold">H</tspan><tspan font-weight="normal" font-style="italic">β</tspan></text><text x="509.9" y="96.5" font-family='"Liberation Serif", serif' font-size="15" textLength="17.0" lengthAdjust="spacingAndGlyphs"><tspan font-weight="normal">S</tspan><tspan font-weight="bold">II</tspan></text><text x="648.9" y="62.5" font-family='"Liberation Serif", serif' font-size="15" textLength="18.0" lengthAdjust="spacingAndGlyphs"><tspan font-weight="normal">S</tspan><tspan font-weight="bold">II</tspan></text></g>
</svg></body></html>
